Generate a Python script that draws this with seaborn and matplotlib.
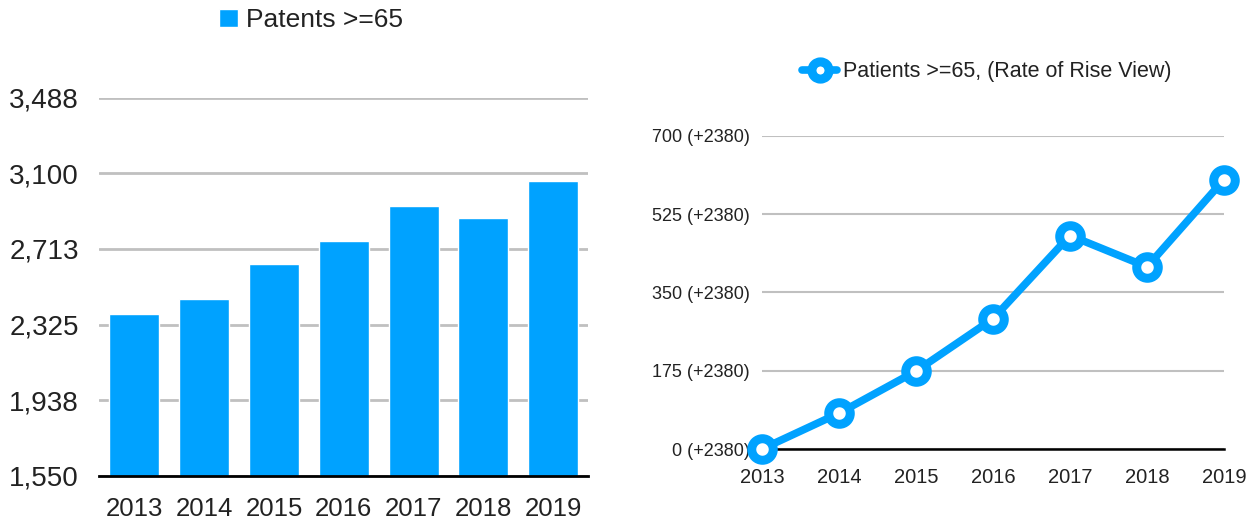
import numpy as np
import pandas as pd
import matplotlib
matplotlib.use("Agg")
import matplotlib.pyplot as plt
import seaborn as sns

# ---- data ----
years = ["2013", "2014", "2015", "2016", "2017", "2018", "2019"]
patients = [2379, 2457, 2635, 2752, 2934, 2870, 3059]
left_ticks = [1550, 1937.6, 2325.2, 2712.8, 3100.4, 3488]
left_tick_labels = ["1,550", "1,938", "2,325", "2,713", "3,100", "3,488"]

rise_years = [2013, 2014, 2015, 2016, 2017, 2018, 2019]
rise_values = [0, 80, 174, 291, 477, 407, 602]
rise_base = 2380
right_ticks = [0, 175, 350, 525, 700]
right_tick_labels = [f"{t} (+{rise_base})" for t in right_ticks]

left_label = "Patents >=65"
right_label = "Patients >=65, (Rate of Rise View)"

BLUE = "#00A2FF"
GRID = "#C0C0C0"
TXT = "#222222"

sns.set_theme(style="white")
plt.rcParams["font.family"] = ["Liberation Sans", "DejaVu Sans"]

fig = plt.figure(figsize=(12.54, 5.23), dpi=100)
W, H = 1254, 523

# ---- left bar chart ----
ax1 = fig.add_axes([99.5 / W, 1 - 475.7 / H, 488.5 / W, 378 / H])
df1 = pd.DataFrame({"year": years, "value": patients})
sns.barplot(data=df1, x="year", y="value", ax=ax1, color=BLUE, width=0.716,
            saturation=1, label=left_label, zorder=2)
ax1.set_ylim(1550, 3488)
ax1.set_xlim(-0.5, 6.5)
ax1.set_yticks(left_ticks)
ax1.set_yticklabels(left_tick_labels)
ax1.yaxis.grid(True, color=GRID, lw=2)
ax1.xaxis.grid(False)
ax1.set_axisbelow(True)
for s in ["top", "right", "left"]:
    ax1.spines[s].set_visible(False)
ax1.spines["bottom"].set_color("black")
ax1.spines["bottom"].set_linewidth(2)
ax1.spines["bottom"].set_zorder(3)
ax1.tick_params(axis="y", length=0, pad=15, labelsize=20, labelcolor=TXT)
ax1.tick_params(axis="x", length=0, pad=15, labelsize=18.5, labelcolor=TXT)
ax1.set_xlabel("")
ax1.set_ylabel("")
leg1 = ax1.legend(loc="center", bbox_to_anchor=(311 / W, 1 - 20 / H),
                  bbox_transform=fig.transFigure, frameon=False, fontsize=19,
                  handlelength=0.7, handleheight=0.7, handletextpad=0.3)
for t in leg1.get_texts():
    t.set_color(TXT)

# ---- right line chart ----
ax2 = fig.add_axes([762 / W, 1 - 449 / H, 462 / W, 313.3 / H])
df2 = pd.DataFrame({"year": rise_years, "rise": rise_values})
sns.lineplot(data=df2, x="year", y="rise", ax=ax2, color=BLUE, lw=5.5,
             marker="o", markersize=15.5, markeredgewidth=6.5,
             markerfacecolor="white", markeredgecolor=BLUE,
             label=right_label, clip_on=False, zorder=4)
ax2.set_xlim(2013, 2019)
ax2.set_ylim(0, 700)
ax2.set_xticks(rise_years)
ax2.set_xticklabels([str(y) for y in rise_years])
ax2.set_yticks(right_ticks)
ax2.set_yticklabels(right_tick_labels)
ax2.yaxis.grid(True, color=GRID, lw=1.5)
ax2.xaxis.grid(False)
ax2.set_axisbelow(True)
for s in ["top", "right", "left"]:
    ax2.spines[s].set_visible(False)
ax2.spines["bottom"].set_color("black")
ax2.spines["bottom"].set_linewidth(1.8)
ax2.tick_params(axis="y", length=0, pad=9, labelsize=13, labelcolor=TXT)
ax2.tick_params(axis="x", length=0, pad=14, labelsize=14.5, labelcolor=TXT)
ax2.set_xlabel("")
ax2.set_ylabel("")
leg2 = ax2.legend(loc="center", bbox_to_anchor=(987 / W, 1 - 72 / H),
                  bbox_transform=fig.transFigure, frameon=False, fontsize=15.5,
                  handlelength=1.6, handletextpad=0.3, markerscale=0.8)
for t in leg2.get_texts():
    t.set_color(TXT)

fig.savefig("out.png", dpi=100, facecolor="white")
